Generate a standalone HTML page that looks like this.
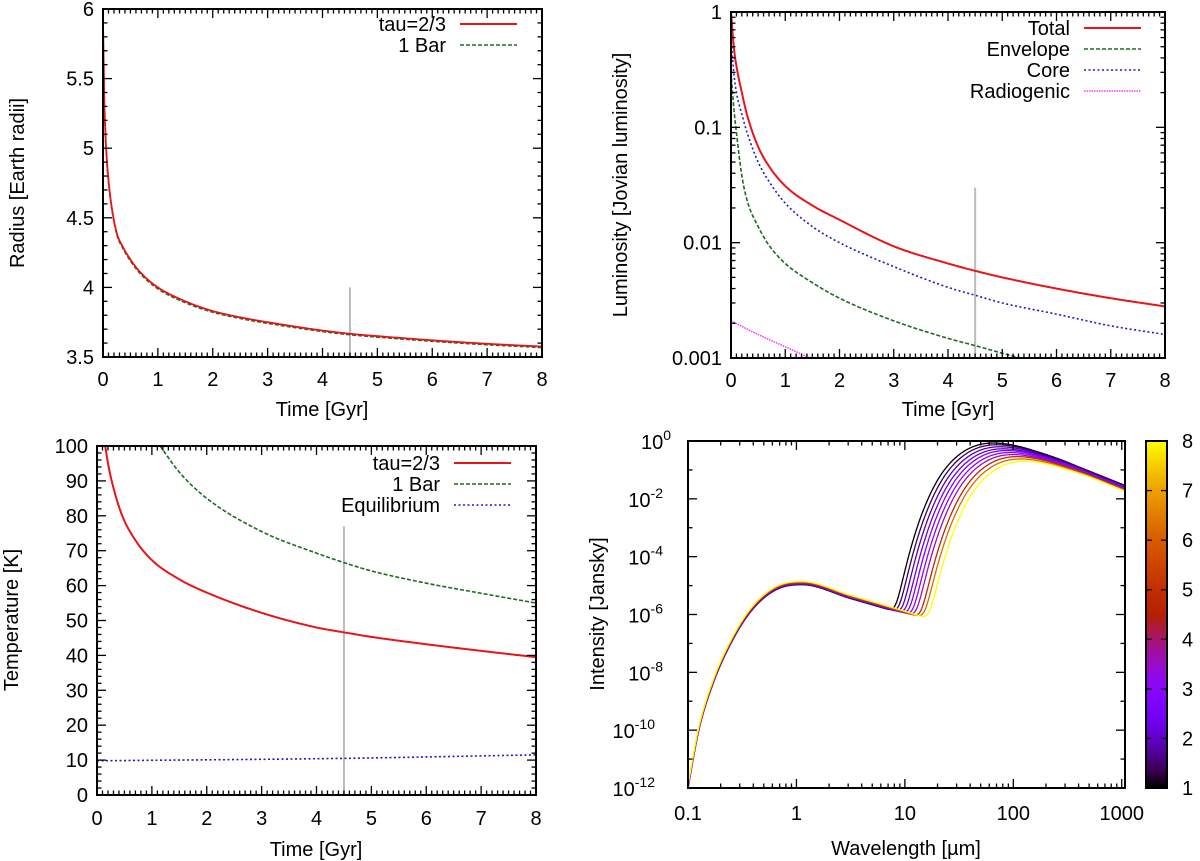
<!DOCTYPE html>
<html><head><meta charset="utf-8"><style>
html,body{margin:0;padding:0;background:#fff;}
svg{display:block;font-family:"Liberation Sans",Arial,sans-serif;}
</style></head><body>
<svg id="fig" width="1200" height="861" viewBox="0 0 1200 861" xmlns="http://www.w3.org/2000/svg">
<defs>
<clipPath id="c1"><rect x="103" y="9" width="439" height="348"/></clipPath>
<clipPath id="c2"><rect x="731" y="12" width="434" height="346"/></clipPath>
<clipPath id="c3"><rect x="97" y="446" width="439" height="349"/></clipPath>
<clipPath id="c4"><rect x="688" y="441" width="437" height="347"/></clipPath>
<linearGradient id="cbgrad" x1="0" y1="1" x2="0" y2="0"></linearGradient>
</defs>
</svg>
<script>
// ---------- DATA ----------
// Radius panel
const radT = [0,0.02,0.05,0.1,0.15,0.25,0.35,0.5,0.7,1,1.5,2,2.5,3,4,4.5,5,6,7,8];
const radTau = [5.9,5.4,5.05,4.77,4.6,4.39,4.3,4.2,4.1,4.0,3.9,3.83,3.785,3.75,3.69,3.667,3.65,3.62,3.595,3.575];
const radBar = [5.88,5.38,5.03,4.755,4.59,4.38,4.29,4.19,4.09,3.99,3.89,3.822,3.777,3.742,3.683,3.66,3.643,3.613,3.588,3.568];
// Luminosity panel
const lumT = [0,0.05,0.1,0.2,0.3,0.5,0.7,1,1.5,2,3,4,4.5,5,6,7,8];
const lumTotal = [1,0.5,0.34,0.2,0.126,0.068,0.046,0.031,0.021,0.0158,0.0093,0.0066,0.0057,0.0050,0.0040,0.0033,0.0028];
const lumCore = [0.6,0.3,0.2,0.13,0.089,0.05,0.034,0.022,0.0138,0.01,0.0062,0.0041,0.0035,0.0030,0.0024,0.0019,0.0016];
const envT = [0,0.05,0.1,0.2,0.3,0.5,0.7,1,1.5,2,3,4,4.5,5,5.5];
const lumEnv = [0.3,0.15,0.09,0.038,0.023,0.0138,0.0095,0.0066,0.0045,0.0033,0.0021,0.00148,0.00128,0.0011,0.00095];
const radioT = [0,0.5,1,1.5];
const lumRadio = [0.0021,0.0016,0.00125,0.00098];
// Temperature panel
const tauT = [0.15,0.2,0.3,0.46,0.7,1,1.5,2,3,4,4.5,5,6,7,8];
const tempTau = [100,95,88,80,73,67.3,61.8,58,52.2,48,46.6,45.3,43.2,41.3,39.5];
const barT = [1.15,1.5,2,3,4,4.5,5,6,7,8];
const tempBar = [100,92.5,85,75.5,69.3,66.6,64.2,60.7,57.8,55];
const eqT = [0,4.5,8];
const tempEq = [9.8,10.5,11.5];
// Spectrum panel (log10 wavelength / log10 intensity)
const reflLogL = [-1,-0.9,-0.77,-0.59,-0.41,-0.19,0.05,0.5,1,1.5,2,3.1];
const reflLogI = [-12,-10.0,-8.4,-6.9,-5.85,-5.15,-4.97,-5.45,-6.0,-6.6,-7.2,-8.6];
const thermDx = [-1.1,-1,-0.9,-0.8,-0.7,-0.6,-0.5,-0.4,-0.3,-0.2,-0.1,0,0.2,0.4,0.6,0.8,1.0,1.2,1.4];
const thermDy = [-11,-8.05,-5.83,-4.13,-2.84,-1.88,-1.17,-0.68,-0.35,-0.14,-0.03,0,-0.09,-0.3,-0.55,-0.85,-1.15,-1.45,-1.75];
const specAges = [1,1.4,1.8,2.2,2.6,3.0,3.5,4.8,6.2,8];
const specPeakLogL = [1.82,1.85,1.88,1.91,1.94,1.97,2.0,2.04,2.07,2.11];
const specPeakLogI = [-0.07,-0.13,-0.2,-0.27,-0.33,-0.4,-0.47,-0.54,-0.62,-0.7];
const specReflOff = [0,0.01,0.02,0.03,0.04,0.05,0.06,0.07,0.09,0.11];
const cbTicks = [1,2,3,4,5,6,7,8];

// ---------- HELPERS ----------
const NS='http://www.w3.org/2000/svg';
const svg=document.getElementById('fig');
const FS=20;
function el(tag, attrs, parent){const e=document.createElementNS(NS,tag);for(const k in attrs)e.setAttribute(k,attrs[k]);(parent||svg).appendChild(e);return e;}
function mono(xs,ys,x){
  const n=xs.length;
  if(x<=xs[0]){return ys[0]+(ys[1]-ys[0])*(x-xs[0])/(xs[1]-xs[0]);}
  if(x>=xs[n-1]){return ys[n-1]+(ys[n-1]-ys[n-2])*(x-xs[n-1])/(xs[n-1]-xs[n-2]);}
  const d=[],m=[];
  for(let i=0;i<n-1;i++)d.push((ys[i+1]-ys[i])/(xs[i+1]-xs[i]));
  m[0]=d[0];m[n-1]=d[n-2];
  for(let i=1;i<n-1;i++){m[i]=(d[i-1]*d[i]<=0)?0:(d[i-1]+d[i])/2;}
  for(let i=0;i<n-1;i++){if(d[i]===0){m[i]=0;m[i+1]=0;continue;}const a=m[i]/d[i],b=m[i+1]/d[i],s=a*a+b*b;if(s>9){const t=3/Math.sqrt(s);m[i]=t*a*d[i];m[i+1]=t*b*d[i];}}
  let k=0;while(x>xs[k+1])k++;
  const h=xs[k+1]-xs[k],t=(x-xs[k])/h,t2=t*t,t3=t2*t;
  return (2*t3-3*t2+1)*ys[k]+(t3-2*t2+t)*h*m[k]+(-2*t3+3*t2)*ys[k+1]+(t3-t2)*h*m[k+1];
}
function palette(f){f=Math.max(0,Math.min(1,f));const r=Math.sqrt(f),g=f*f*f,b=Math.max(0,Math.sin(2*Math.PI*f));
  return 'rgb('+Math.round(r*255)+','+Math.round(g*255)+','+Math.round(b*255)+')';}

const P1={L:103,R:542,T:9,B:357,x0:0,x1:8,y0:3.5,y1:6,log:false};
const P2={L:731,R:1165,T:12,B:358,x0:0,x1:8,y0:-3,y1:0,log:true};
const P3={L:97,R:536,T:446,B:795,x0:0,x1:8,y0:0,y1:100,log:false};
const P4={L:688,R:1125,T:441,B:788,x0:-1,x1:3.03,y0:-12,y1:0,log:true};
function X(P,v){return P.L+(v-P.x0)/(P.x1-P.x0)*(P.R-P.L);}
function Yw(P,w){return P.B-(w-P.y0)/(P.y1-P.y0)*(P.B-P.T);}
function Y(P,v){return Yw(P,P.log?Math.log10(v):v);}
function XL(v){return P4.L+(Math.log10(v)-P4.x0)/(P4.x1-P4.x0)*(P4.R-P4.L);}
function YL(lv){return P4.B-(lv-P4.y0)/(P4.y1-P4.y0)*(P4.B-P4.T);}

function drawFrame(P,g){
  const r=el('rect',{x:P.L,y:P.T,width:P.R-P.L,height:P.B-P.T,fill:'none',stroke:'#000','stroke-width':2},g);
  
  
}
function tick(g,x1,y1,x2,y2){const l=el('line',{x1:x1,y1:y1,x2:x2,y2:y2,stroke:'#000','stroke-width':1.3},g);
  
  }
function label(g,x,y,txt,anchor,name){const t=el('text',{x:x,y:y,'font-size':FS,'text-anchor':anchor,fill:'#000'},g);t.textContent=txt;
  
  
  return t;}
function timeXAxis(P,g,ly){
  for(let i=0;i<=80;i++){const v=i/10,x=X(P,v),maj=i%10===0,len=maj?9:4.5;
    tick(g,x,P.B,x,P.B-len);tick(g,x,P.T,x,P.T+len);
    if(maj)label(g,x,ly,String(v),'middle','x-tick-label');}
}
function linYAxis(P,g,step,minor,fmt){
  const n=Math.round((P.y1-P.y0)/step*minor);
  for(let i=0;i<=n;i++){const v=P.y0+i*step/minor,y=Y(P,v),maj=i%minor===0,len=maj?9:4.5;
    tick(g,P.L,y,P.L+len,y);tick(g,P.R,y,P.R-len,y);
    if(maj)label(g,P.L-9,y+7,fmt(v),'end','y-tick-label');}
}
function series(P,g,clip,xs,ys,color,w,dash,name){
  const wy=ys.map(v=>P.log?Math.log10(v):v);
  const pts=[];const N=300;
  for(let k=0;k<=N;k++){const x=xs[0]+(xs[xs.length-1]-xs[0])*k/N;pts.push([X(P,x),Yw(P,mono(xs,wy,x))]);}
  const p=el('path',{d:'M'+pts.map(q=>q[0].toFixed(2)+','+q[1].toFixed(2)).join('L'),fill:'none',stroke:color,'stroke-width':w,'clip-path':'url(#'+clip+')'},g);
  if(dash)p.setAttribute('stroke-dasharray',dash);
  
  
}
function legend(g,xr,y,txt,color,w,dash,name){
  label(g,xr,y+7,txt,'end','legend-label');
  const l=el('line',{x1:xr+14,y1:y,x2:xr+71,y2:y,stroke:color,'stroke-width':w},g);
  if(dash)l.setAttribute('stroke-dasharray',dash);
  
  
}
function vtitle(g,x,y,txt,name){const t=el('text',{x:x,y:y,'font-size':FS,'text-anchor':'middle',transform:'rotate(-90 '+x+' '+y+')'},g);t.textContent=txt;
  
  }
function gray(P,g,x,ytop){const l=el('line',{x1:X(P,x),y1:Y(P,ytop),x2:X(P,x),y2:P.B,stroke:'#bbb','stroke-width':2},g);
  
  }
const RED='#e8141a',GREEN='#1e6b1e',BLUE='#1a1acc',MAG='#f040f0';

// ---------- PANEL 1: Radius ----------
const g1=el('g',{});


gray(P1,g1,4.5,4.0);
series(P1,g1,'c1',radT,radBar,GREEN,1.6,'4,2','bar-radius-line');
series(P1,g1,'c1',radT,radTau,RED,1.8,null,'tau-radius-line');
timeXAxis(P1,g1,386);
linYAxis(P1,g1,0.5,5,v=>String(+v.toFixed(1)));
drawFrame(P1,g1);
legend(g1,446,24,'tau=2/3',RED,2,null,'legend-tau-line');
legend(g1,446,45,'1 Bar',GREEN,1.6,'4,2','legend-bar-line');
label(g1,322,416,'Time [Gyr]','middle','x-axis-title');
vtitle(g1,24,183,'Radius [Earth radii]','y-axis-title');

// ---------- PANEL 2: Luminosity ----------
const g2=el('g',{});


gray(P2,g2,4.5,0.03);
series(P2,g2,'c2',radioT,lumRadio,MAG,1.6,'1.5,1','radiogenic-line');
series(P2,g2,'c2',envT,lumEnv,GREEN,1.6,'4,2','envelope-line');
series(P2,g2,'c2',lumT,lumCore,BLUE,1.6,'2,2.5','core-line');
series(P2,g2,'c2',lumT,lumTotal,RED,2,null,'total-line');
timeXAxis(P2,g2,387);
['0.001','0.01','0.1','1'].forEach((s,i)=>{const y=Y(P2,Math.pow(10,i-3));label(g2,P2.L-9,y+7,s,'end','y-tick-label');});
for(let d=-3;d<0;d++){for(let m=1;m<10;m++){const y=Y(P2,m*Math.pow(10,d)),len=m===1?9:4.5;tick(g2,P2.L,y,P2.L+len,y);tick(g2,P2.R,y,P2.R-len,y);}}
drawFrame(P2,g2);
legend(g2,1070,28,'Total',RED,2,null,'legend-total-line');
legend(g2,1070,49,'Envelope',GREEN,1.6,'4,2','legend-envelope-line');
legend(g2,1070,70,'Core',BLUE,1.6,'2,2.5','legend-core-line');
legend(g2,1070,91,'Radiogenic',MAG,1.6,'1.5,1','legend-radiogenic-line');
label(g2,948,416,'Time [Gyr]','middle','x-axis-title');
vtitle(g2,627,185,'Luminosity [Jovian luminosity]','y-axis-title');

// ---------- PANEL 3: Temperature ----------
const g3=el('g',{});


gray(P3,g3,4.5,77);
series(P3,g3,'c3',eqT,tempEq,BLUE,1.6,'2,2.5','equilibrium-line');
series(P3,g3,'c3',barT,tempBar,GREEN,1.6,'4,2','bar-temperature-line');
series(P3,g3,'c3',tauT,tempTau,RED,2,null,'tau-temperature-line');
timeXAxis(P3,g3,825);
linYAxis(P3,g3,10,5,v=>String(Math.round(v)));
drawFrame(P3,g3);
legend(g3,440,463,'tau=2/3',RED,2,null,'legend-tau-line');
legend(g3,440,484,'1 Bar',GREEN,1.6,'4,2','legend-bar-line');
legend(g3,440,505,'Equilibrium',BLUE,1.6,'2,2.5','legend-equilibrium-line');
label(g3,316,856,'Time [Gyr]','middle','x-axis-title');
vtitle(g3,18,620,'Temperature [K]','y-axis-title');

// ---------- PANEL 4: Spectrum ----------
const g4=el('g',{});


specAges.forEach((age,i)=>{
  const pts=[];
  for(let k=0;k<=806;k++){const lx=-1+k*0.005;
    const r=mono(reflLogL,reflLogI,lx)+specReflOff[i];
    const t=specPeakLogI[i]+mono(thermDx,thermDy,lx-specPeakLogL[i]);
    const s=Math.log10(Math.pow(10,r)+Math.pow(10,t));
    pts.push([P4.L+(lx-P4.x0)/(P4.x1-P4.x0)*(P4.R-P4.L),YL(s)]);}
  const p=el('path',{d:'M'+pts.map(q=>q[0].toFixed(2)+','+q[1].toFixed(2)).join('L'),fill:'none',stroke:palette((age-1)/7),'stroke-width':1.3,'clip-path':'url(#c4)'},g4);
  
  
});
[0.1,1,10,100,1000].forEach(v=>{label(g4,XL(v),820,String(v),'middle','x-tick-label');});
for(let d=-1;d<=3;d++){for(let m=1;m<10;m++){const v=m*Math.pow(10,d);if(Math.log10(v)>P4.x1)continue;const x=XL(v),len=m===1?9:4.5;tick(g4,x,P4.B,x,P4.B-len);tick(g4,x,P4.T,x,P4.T+len);}}
for(let e=-12;e<=0;e+=2){const y=YL(e),t=el('text',{x:P4.L-9-(String(e).length*8),y:y+8,'font-size':FS,'text-anchor':'end'},g4);
  
  
  t.textContent='10';
  const s=el('tspan',{'font-size':14,dy:-9},t);s.textContent=String(e);
  tick(g4,P4.L,y,P4.L+9,y);tick(g4,P4.R,y,P4.R-9,y);
  if(e<0){const y2=YL(e+1);tick(g4,P4.L,y2,P4.L+4.5,y2);tick(g4,P4.R,y2,P4.R-4.5,y2);}}
drawFrame(P4,g4);
const wl=el('text',{x:906,y:855,'font-size':FS,'text-anchor':'middle'},g4);


wl.textContent='Wavelength [µm]';
vtitle(g4,604,614,'Intensity [Jansky]','y-axis-title');

// colorbar
const grad=document.getElementById('cbgrad');
for(let i=0;i<=20;i++){el('stop',{offset:(i/20),'stop-color':palette(i/20)},grad);}
const cbT=441,cbB=788,cbL=1146,cbR=1167;
const cb=el('rect',{x:cbL,y:cbT,width:cbR-cbL,height:cbB-cbT,fill:'url(#cbgrad)',stroke:'#000','stroke-width':2});


cbTicks.forEach(v=>{const y=cbB-(v-1)/7*(cbB-cbT);
  tick(svg,cbL,y,cbL+6,y);tick(svg,cbR,y,cbR-6,y);
  label(svg,1182,y+7,String(v),'start','colorbar-tick-label');});
</script>
</body></html>
